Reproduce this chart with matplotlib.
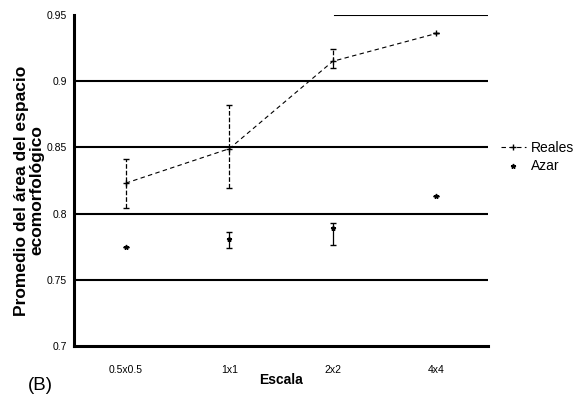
import numpy as np
import matplotlib.pyplot as plt

plt.rcParams['font.family'] = ['Liberation Sans', 'DejaVu Sans']

escalas = ['0.5x0.5', '1x1', '2x2', '4x4']
reales = [0.823, 0.849, 0.915, 0.936]
reales_inf = [0.804, 0.819, 0.910, 0.936]
reales_sup = [0.841, 0.882, 0.924, 0.936]
azar = [0.775, 0.781, 0.789, 0.813]
azar_inf = [0.775, 0.774, 0.776, 0.813]
azar_sup = [0.775, 0.786, 0.793, 0.813]
yticks = [0.7, 0.75, 0.8, 0.85, 0.9, 0.95]
ytick_labels = ['0.7', '0.75', '0.8', '0.85', '0.9', '0.95']

x = np.arange(len(escalas)) + 0.5
reales = np.array(reales)
azar = np.array(azar)
err_r = [reales - np.array(reales_inf), np.array(reales_sup) - reales]
err_a = [azar - np.array(azar_inf), np.array(azar_sup) - azar]

fig = plt.figure(figsize=(5.88, 4.04), dpi=100)
ax = fig.add_axes([0.126, 0.1436, 0.704, 0.8194])

for y in [0.75, 0.8, 0.85, 0.9]:
    ax.axhline(y, color='black', lw=1.5, zorder=1)
ax.axhline(0.95, xmin=0.63, xmax=1, color='black', lw=1.5, zorder=1)

# errorbars first, then the line/markers used by the legend
eb = ax.errorbar(x, reales, yerr=err_r, fmt='none', color='black',
                 capsize=2, elinewidth=0.9, zorder=3)
eb[-1][0].set_linestyle('--')
ax.errorbar(x, azar, yerr=err_a, fmt='none', color='black',
            capsize=2, elinewidth=0.9, zorder=3)
l1, = ax.plot(x, reales, '+', ls='--', dashes=(4, 3), color='black', lw=0.8,
              ms=5, label='Reales', zorder=4)
l2, = ax.plot(x, azar, '*', ls='none', color='black', ms=3.5,
              label='Azar', zorder=4)

ax.set_xlim(0, 4)
ax.set_ylim(0.7, 0.95)
ax.set_xticks(x)
ax.set_xticklabels(escalas, fontsize=7.5)
ax.set_yticks(yticks)
ax.set_yticklabels(ytick_labels, fontsize=7.5)
ax.tick_params(axis='x', length=0, pad=14)
ax.tick_params(axis='y', length=0, pad=5)

for s in ['top', 'right']:
    ax.spines[s].set_visible(False)
ax.spines['left'].set_linewidth(2.2)
ax.spines['bottom'].set_linewidth(2.2)

ax.set_ylabel('Promedio del área del espacio\necomorfológico', fontsize=12.5,
              fontweight='bold', linespacing=1.0)
ax.yaxis.set_label_coords(-0.072, 0.47)
ax.set_xlabel('Escala', fontsize=10, fontweight='bold', labelpad=-2)
fig.text(0.047, 0.035, '(B)', fontsize=13.5)

ax.legend(handles=[l1, l2], loc='center left', bbox_to_anchor=(1.0, 0.57),
          frameon=False, fontsize=10, handlelength=1.8, handletextpad=0.4,
          labelspacing=0.3)

fig.savefig('out.png', dpi=100)
